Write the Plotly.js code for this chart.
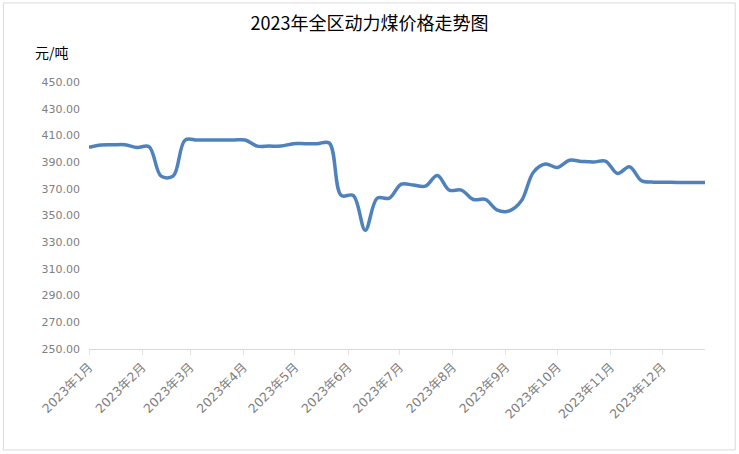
<!DOCTYPE html>
<html>
<head>
<meta charset="utf-8">
<script src="https://cdn.plot.ly/plotly-3.0.1.min.js"></script>
<style>html,body{margin:0;padding:0;background:#fff}#chart{width:739px;height:454px}</style>
</head>
<body>
<div id="chart"></div>
<script>
// Weekly price observations (元/吨)
const dates = [
  "2023-01-01","2023-01-08","2023-01-15","2023-01-22","2023-01-29","2023-02-05","2023-02-12","2023-02-19",
  "2023-02-26","2023-03-05","2023-03-12","2023-03-19","2023-03-26","2023-04-02","2023-04-09","2023-04-16",
  "2023-04-23","2023-04-30","2023-05-07","2023-05-14","2023-05-21","2023-05-28","2023-06-04","2023-06-11",
  "2023-06-18","2023-06-25","2023-07-02","2023-07-09","2023-07-16","2023-07-23","2023-07-30","2023-08-06",
  "2023-08-13","2023-08-20","2023-08-27","2023-09-03","2023-09-10","2023-09-17","2023-09-24","2023-10-01",
  "2023-10-08","2023-10-15","2023-10-22","2023-10-29","2023-11-05","2023-11-12","2023-11-19","2023-11-26",
  "2023-12-03","2023-12-10","2023-12-17","2023-12-26"
];
const prices = [
  401, 402.8, 403, 403, 401, 401.5, 379.5, 379.5,
  406.5, 406.5, 406.5, 406.5, 406.5, 406.5, 402, 402,
  402, 403.8, 403.8, 403.8, 404.3, 365, 365, 339,
  363, 363, 373.5, 372.8, 372, 380, 369, 369,
  362, 362, 354, 353.5, 361, 382.4, 388.5, 386,
  391.4, 390.5, 390, 390.8, 381.5, 386.5, 376, 375,
  375, 374.8, 374.8, 374.8
];
const yTicks = [250, 270, 290, 310, 330, 350, 370, 390, 410, 430, 450];
const yTickLabels = ["250.00","270.00","290.00","310.00","330.00","350.00","370.00","390.00","410.00","430.00","450.00"];
const chartTitle = "2023年全区动力煤价格走势图";
const unitLabel = "元/吨";

const trace = {
  x: dates, y: prices, type: "scatter", mode: "lines",
  line: {color: "#4F81BD", width: 3.5, shape: "spline", smoothing: 1},
  hoverinfo: "skip"
};

const layout = {
  width: 739, height: 454,
  margin: {l: 89, r: 34, t: 82, b: 105},
  paper_bgcolor: "#ffffff", plot_bgcolor: "#ffffff",
  showlegend: false,
  title: {text: chartTitle, x: 0.5, xanchor: "center", y: 0.947, yanchor: "middle",
          font: {family: "Noto Sans CJK SC, sans-serif", size: 18, color: "#000000"}},
  xaxis: {
    type: "date", range: ["2023-01-01", "2023-12-26"],
    tick0: "2023-01-01", dtick: "M1", tickformat: "%Y年%-m月",
    tickangle: -45, ticks: "outside", ticklen: 5, tickcolor: "#e3e3e3",
    showline: true, linecolor: "#d9d9d9", linewidth: 1,
    showgrid: false, zeroline: false,
    tickfont: {family: "DejaVu Sans, Noto Sans CJK SC, sans-serif", size: 12.5, color: "#808080"}
  },
  yaxis: {
    range: [250, 450], tickmode: "array", tickvals: yTicks, ticktext: yTickLabels,
    ticks: "", showline: false, showgrid: false, zeroline: false,
    ticklabelstandoff: 8,
    tickfont: {family: "DejaVu Sans, sans-serif", size: 11, color: "#808080"}
  },
  annotations: [{
    text: unitLabel, xref: "paper", yref: "paper", x: -0.091, y: 1.112,
    xanchor: "left", yanchor: "middle", showarrow: false,
    font: {family: "Noto Sans CJK SC, sans-serif", size: 14, color: "#000000"}
  }],
  shapes: [{
    type: "rect", xref: "paper", yref: "paper",
    x0: -0.139, x1: 1.049, y0: -0.378, y1: 1.296,
    line: {color: "#d9d9d9", width: 1}, fillcolor: "rgba(0,0,0,0)", layer: "below"
  }]
};

Plotly.newPlot("chart", [trace], layout, {displayModeBar: false, staticPlot: true});
</script>
</body>
</html>
